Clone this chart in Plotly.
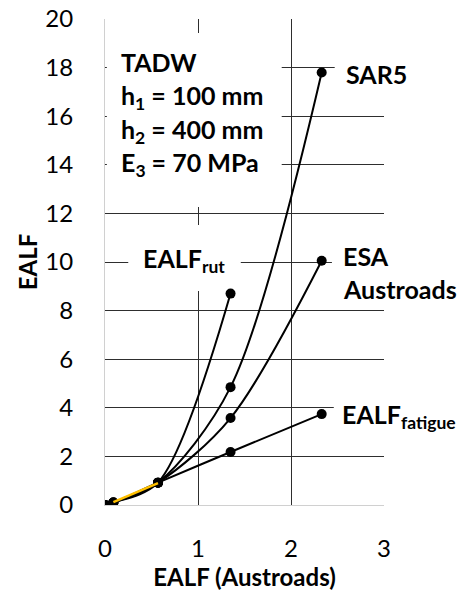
import plotly.graph_objects as go

# Austroads EALF on the x axis, alternative load-equivalency measures on y
x_points = [0, 0.09, 0.57, 1.35, 2.33]
x_rut = [0, 0.09, 0.57, 1.35]

sar5 = [0, 0.10, 0.92, 4.85, 17.8]
esa_austroads = [0, 0.10, 0.92, 3.58, 10.05]
ealf_fatigue = [0, 0.10, 0.92, 2.18, 3.74]
ealf_rut = [0, 0.10, 0.92, 8.70]

# reference (Austroads) series, visible only in the low range
x_ref = [0.09, 0.57]
ref_vals = [0.12, 0.90]

x_ticks = [0, 1, 2, 3]
y_ticks = [0, 2, 4, 6, 8, 10, 12, 14, 16, 18, 20]

FONT = "Lato"
GRID = "#2e2e2e"
AXIS = "#d0d0d0"

fig = go.Figure()

line_style = dict(color="black", width=2, shape="spline", smoothing=0.9)
marker_style = dict(color="black", size=10)

for xs, ys, name in [
    (x_points, ealf_fatigue, "EALF fatigue"),
    (x_points, esa_austroads, "ESA Austroads"),
    (x_points, sar5, "SAR5"),
    (x_rut, ealf_rut, "EALF rut"),
]:
    fig.add_trace(go.Scatter(x=xs, y=ys, mode="lines+markers", name=name,
                             line=line_style, marker=marker_style))

fig.add_trace(go.Scatter(x=x_ref, y=ref_vals, mode="lines", name="Austroads",
                         line=dict(color="#FFC000", width=2.5, shape="spline")))

# white panels behind the labels, hiding the grid there
panels = [
    (0.02, 1.90, 12.26, 19.42),   # layer description
    (2.47, 3.3, 16.75, 18.9),     # SAR5
    (2.44, 3.3, 8.07, 11.73),     # ESA Austroads
    (2.46, 3.3, 2.51, 4.61),      # EALF fatigue
    (0.25, 1.46, 8.81, 11.52),    # EALF rut
]
for x0, x1, y0, y1 in panels:
    fig.add_shape(type="rect", xref="x", yref="y", x0=x0, x1=x1, y0=y0, y1=y1,
                  fillcolor="white", line=dict(width=0), layer="between")

bold = dict(family=FONT, size=25, color="black", weight="bold")

labels = [
    ("TADW", 0.15, 18.23),
    ("h<sub>1</sub> = 100 mm", 0.15, 16.8),
    ("h<sub>2</sub> = 400 mm", 0.15, 15.4),
    ("E<sub>3</sub> = 70 MPa", 0.15, 14.05),
    ("SAR5", 2.57, 17.75),
    ("ESA", 2.54, 10.25),
    ("Austroads", 2.54, 8.9),
    ("EALF<sub>rut</sub>", 0.39, 10.1),
    ("EALF<sub>fatigue</sub>", 2.53, 3.65),
]
for text, x, y in labels:
    fig.add_annotation(x=x, y=y, xref="x", yref="y", text=text, showarrow=False,
                       xanchor="left", yanchor="middle", font=bold)

fig.update_xaxes(
    range=[0, 3], tickvals=x_ticks, showgrid=True, gridcolor=GRID, gridwidth=1,
    zeroline=False, showline=True, linecolor=AXIS, linewidth=1, ticks="",
    tickfont=dict(family=FONT, size=24, color="black"), ticklabelstandoff=22,
    automargin=False,
    title=dict(text="EALF (Austroads)", font=dict(family=FONT, size=24, color="black", weight="bold"),
               standoff=6),
)
fig.update_yaxes(
    range=[0, 20], tickvals=y_ticks, showgrid=True, gridcolor=GRID, gridwidth=1,
    zeroline=False, showline=True, linecolor=AXIS, linewidth=1, ticks="",
    tickfont=dict(family=FONT, size=24, color="black"), ticklabelstandoff=26,
    automargin=False,
    title=dict(text="EALF", font=dict(family=FONT, size=24, color="black", weight="bold"),
               standoff=0),
)

fig.update_layout(
    width=471, height=592, showlegend=False,
    margin=dict(l=105, r=87, t=19, b=87),
    plot_bgcolor="white", paper_bgcolor="white",
)

fig.write_html("out.html")
